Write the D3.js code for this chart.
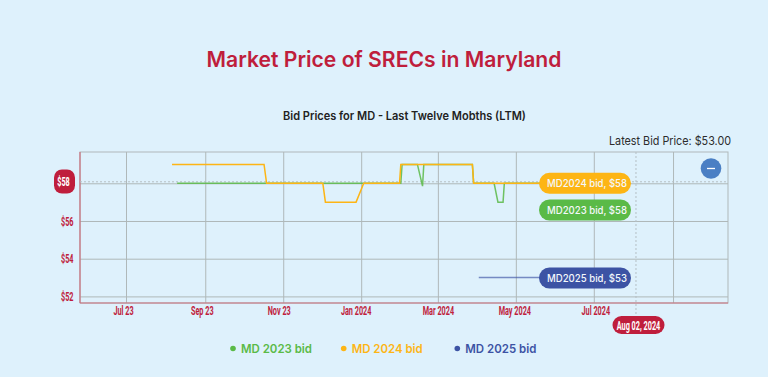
<!DOCTYPE html>
<html>
<head>
<meta charset="utf-8">
<script src="https://cdn.jsdelivr.net/npm/d3@7"></script>
<style>
html, body { margin: 0; padding: 0; background: #def1fc; overflow: hidden; }
svg { display: block; }
text { font-family: Inter, "Open Sans", sans-serif; }
.tick-label, .axis text { font-family: Roboto, "Liberation Sans", sans-serif; font-weight: 700; }
</style>
</head>
<body>
<script>
// values
var tickDates = ["2023-07-01", "2023-09-01", "2023-11-01", "2024-01-01", "2024-03-01", "2024-05-01", "2024-07-01", "2024-09-01"];
var tickLabels = ["Jul 23", "Sep 23", "Nov 23", "Jan 2024", "Mar 2024", "May 2024", "Jul 2024", ""];
var priceTicks = [52, 54, 56, 58];

var dates2023 = ["2023-08-10", "2024-02-01", "2024-02-02", "2024-02-14", "2024-02-18", "2024-02-19", "2024-03-28", "2024-03-29", "2024-04-14", "2024-04-17", "2024-04-21", "2024-04-22", "2024-05-20"];
var bids2023 = [58, 58, 59, 59, 57.85, 59, 59, 58, 58, 57, 57, 58, 58];

var dates2024 = ["2023-08-06", "2023-10-17", "2023-10-19", "2023-12-02", "2023-12-04", "2023-12-28", "2024-01-03", "2024-01-31", "2024-02-01", "2024-03-28", "2024-03-29", "2024-05-20"];
var bids2024 = [59, 59, 58, 58, 57, 57, 58, 58, 59, 59, 58, 58];

var dates2025 = ["2024-04-02", "2024-05-20"];
var bids2025 = [53, 53];

var seriesNames = ["MD 2023 bid", "MD 2024 bid", "MD 2025 bid"];
var badgeLabels = ["MD2023 bid, $58", "MD2024 bid, $58", "MD2025 bid, $53"];
var cursorDate = "2024-08-03";
var cursorPrice = 58.08;

var w = 768, h = 377;
var plotLeft = 80, plotRight = 728, plotTop = 152, plotBottom = 303;
var crimson = "#bf1e3c", gridColor = "#afb8b9", axisColor = "#cc6f7c";
var colors = ["#5aba47", "#fdb515", "#3c53a4"];

var parse = d3.utcParse("%Y-%m-%d");

var xScale = d3.scaleUtc()
	.domain([parse("2023-05-26"), parse("2024-10-14")])
	.range([plotLeft, plotRight]);
var yScale = d3.scaleLinear()
	.domain([51.65, 59.66])
	.range([plotBottom, plotTop]);

var svg = d3.select("body").append("svg")
	.attr("width", w)
	.attr("height", h);

// squeeze a text sideways, there is no condensed face installed
function condense(sel, factor) {
	sel.each(function() {
		var len = this.getComputedTextLength();
		if (len > 0) {
			d3.select(this)
				.attr("textLength", len * factor)
				.attr("lengthAdjust", "spacingAndGlyphs");
		}
	});
}

//Titles
svg.append("text")
	.attr("x", 384).attr("y", 66.5)
	.attr("text-anchor", "middle")
	.attr("textLength", 355).attr("lengthAdjust", "spacingAndGlyphs")
	.attr("fill", crimson)
	.style("font-size", "21.5px").style("font-weight", 600)
	.text("Market Price of SRECs in Maryland");
svg.append("text")
	.attr("x", 404.5).attr("y", 120)
	.attr("text-anchor", "middle")
	.attr("textLength", 243).attr("lengthAdjust", "spacingAndGlyphs")
	.attr("fill", "#222")
	.style("font-size", "11.5px").style("font-weight", 600)
	.text("Bid Prices for MD - Last Twelve Mobths (LTM)");
svg.append("text")
	.attr("x", 731).attr("y", 144.5)
	.attr("text-anchor", "end")
	.attr("textLength", 122).attr("lengthAdjust", "spacingAndGlyphs")
	.attr("fill", "#2c2c2c")
	.style("font-size", "12px")
	.text("Latest Bid Price: $53.00");

//Plot frame
svg.append("rect")
	.attr("x", plotLeft).attr("y", plotTop)
	.attr("width", plotRight - plotLeft).attr("height", plotBottom - plotTop)
	.attr("fill", "none")
	.attr("stroke", gridColor);

//Axes, the ticks double as grid lines
var xTicks = tickDates.map(parse);
var xAxis = d3.axisBottom(xScale)
	.tickValues(xTicks)
	.tickSize(plotTop - plotBottom)
	.tickFormat(function(d, i) { return tickLabels[i]; });
var yAxis = d3.axisLeft(yScale)
	.tickValues(priceTicks)
	.tickSize(plotLeft - plotRight)
	.tickFormat(function(d) { return "$" + d; });

var gx = svg.append("g")
	.attr("class", "axis")
	.attr("transform", "translate(0," + plotBottom + ")")
	.call(xAxis);
var gy = svg.append("g")
	.attr("class", "axis")
	.attr("transform", "translate(" + plotLeft + ",0)")
	.call(yAxis);
svg.selectAll(".axis .tick line").attr("stroke", gridColor);
svg.selectAll(".axis .domain").attr("stroke", "none");
svg.selectAll(".axis text")
	.attr("fill", crimson)
	.style("font-size", "13px");

// tickSize is negative so d3 puts the labels inside, send them back out
gx.selectAll("text").attr("y", 3);
gy.selectAll("text").attr("x", -6.5);

//Labels sit a little off their grid lines in the original
var labelNudge = [-3, -3.5, -4.5, -5.5, 0, -1.5, 1.5, 0];
gx.selectAll("text")
	.attr("dx", function(d, i) { return labelNudge[i]; });
condense(svg.selectAll(".axis text"), 0.56);

//Red axis lines
svg.append("line")
	.attr("x1", plotLeft).attr("x2", plotLeft)
	.attr("y1", plotTop).attr("y2", plotBottom)
	.attr("stroke", axisColor).attr("stroke-width", 1.2);
svg.append("line")
	.attr("x1", plotLeft).attr("x2", plotRight)
	.attr("y1", plotBottom).attr("y2", plotBottom)
	.attr("stroke", axisColor).attr("stroke-width", 1.2);

//Crosshairs
var cursorX = xScale(parse(cursorDate));
svg.append("line")
	.attr("x1", plotLeft).attr("x2", plotRight)
	.attr("y1", yScale(cursorPrice)).attr("y2", yScale(cursorPrice))
	.attr("stroke", "#b5bfc4").attr("stroke-dasharray", "2,2");
svg.append("line")
	.attr("x1", cursorX).attr("x2", cursorX)
	.attr("y1", plotTop).attr("y2", 318)
	.attr("stroke", "#b5bfc4").attr("stroke-dasharray", "2,2");

//Create lines
var line = d3.line()
	.x(function(d) { return xScale(d.date); })
	.y(function(d) { return yScale(d.bid); });

function zipSeries(dates, bids) {
	return dates.map(function(d, i) { return { date: parse(d), bid: bids[i] }; });
}
var series = [
	zipSeries(dates2023, bids2023),
	zipSeries(dates2024, bids2024),
	zipSeries(dates2025, bids2025)
];
var lineOpacity = [0.85, 1, 0.65];
series.forEach(function(s, i) {
	svg.append("path")
		.datum(s)
		.attr("fill", "none")
		.attr("stroke", colors[i])
		.attr("stroke-opacity", lineOpacity[i])
		.attr("stroke-width", 1.5)
		.attr("d", line);
});

//End-of-line badges
var badgeY = [210, 183.3, 278];
[1, 0, 2].forEach(function(i) {
	var g = svg.append("g").attr("transform", "translate(539," + badgeY[i] + ")");
	g.append("rect")
		.attr("x", 0).attr("y", -10.5)
		.attr("width", 92).attr("height", 21)
		.attr("rx", 10.5)
		.attr("fill", colors[i]);
	g.append("text")
		.attr("x", 48).attr("y", 4)
		.attr("text-anchor", "middle")
		.attr("textLength", 80).attr("lengthAdjust", "spacingAndGlyphs")
		.attr("fill", "#f4f8fb")
		.style("font-size", "10.5px").style("font-weight", 500)
		.text(badgeLabels[i]);
});

//Price flag on the y axis
svg.append("rect")
	.attr("x", 54).attr("y", 169.5)
	.attr("width", 21).attr("height", 24)
	.attr("rx", 8)
	.attr("fill", crimson);
svg.append("text")
	.attr("class", "tick-label")
	.attr("x", 63.5).attr("y", 186)
	.attr("text-anchor", "middle")
	.attr("fill", "#fff")
	.style("font-size", "13px")
	.text("$58")
	.call(condense, 0.56);
// plain $58 tick is covered by the flag
gy.selectAll(".tick text").filter(function(d) { return d === 58; }).remove();

//Date flag under the x axis
svg.append("rect")
	.attr("x", 612.5).attr("y", 316)
	.attr("width", 52).attr("height", 18)
	.attr("rx", 9)
	.attr("fill", crimson);
svg.append("text")
	.attr("class", "tick-label")
	.attr("x", 638.5).attr("y", 329.5)
	.attr("text-anchor", "middle")
	.attr("fill", "#fff")
	.style("font-size", "13px")
	.text("Aug 02, 2024")
	.call(condense, 0.56);

//Zoom button
svg.append("circle")
	.attr("cx", 711).attr("cy", 168.5).attr("r", 10.3)
	.attr("fill", "#4a7fc4");
svg.append("line")
	.attr("x1", 707).attr("x2", 715)
	.attr("y1", 168.5).attr("y2", 168.5)
	.attr("stroke", "#fff").attr("stroke-width", 1.3);

//Legend
var legendX = [233, 343.7, 457.3];
var legend = svg.selectAll(".legend")
	.data(seriesNames)
	.enter().append("g")
	.attr("class", "legend")
	.attr("transform", function(d, i) { return "translate(" + legendX[i] + ",348.5)"; });
legend.append("circle")
	.attr("r", 2.8)
	.attr("fill", function(d, i) { return colors[i]; });
legend.append("text")
	.attr("x", 8).attr("y", 4.5)
	.attr("textLength", 71).attr("lengthAdjust", "spacingAndGlyphs")
	.attr("fill", function(d, i) { return colors[i]; })
	.style("font-size", "12px").style("font-weight", 600)
	.text(function(d) { return d; });
</script>
</body>
</html>
